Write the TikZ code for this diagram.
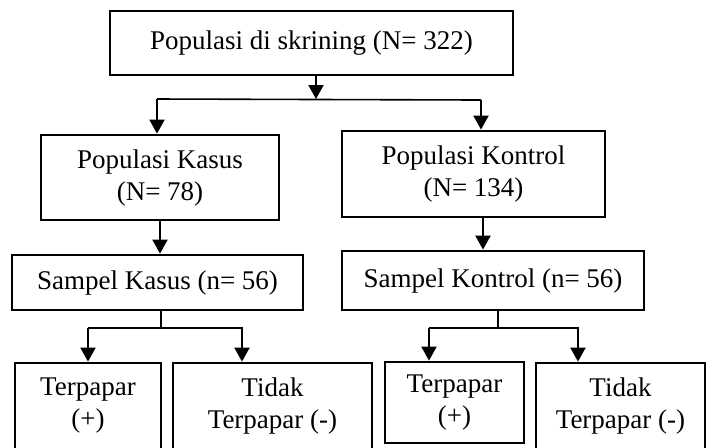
\documentclass[tikz,border=0pt]{standalone}
\usepackage{fontspec}
\setmainfont{Liberation Serif}
\usetikzlibrary{arrows.meta,positioning,calc}

\begin{document}
\begin{tikzpicture}[
  x=0.5pt, y=-0.5pt,
  box/.style={draw, line width=1.4pt, inner sep=0pt, align=center,
              font=\fontsize{13.5}{16}\selectfont},
  arr/.style={line width=1pt, -{Triangle[width=7.5pt,length=7pt]}},
  stem/.style={line width=0.6pt}
]
\useasboundingbox (0,0) rectangle (713,447);
\node[box, minimum width=201.5pt, minimum height=32pt] (scr) at (311.5,43)
  {Populasi di skrining (N= 322)};
\node[box, minimum width=119pt, minimum height=42.5pt] (kasus) at (160,177.5)
  {Populasi Kasus\\(N= 78)};
\node[box, minimum width=131.5pt, minimum height=43pt] (kontrol) at (473.5,174)
  {Populasi Kontrol\\(N= 134)};
\node[box, minimum width=145.5pt, minimum height=27.5pt] (skasus) at (157.5,282.5)
  {Sampel Kasus (n= 56)};
\node[box, minimum width=151pt, minimum height=29.5pt] (skontrol) at (493,280.5)
  {Sampel Kontrol (n= 56)};
% paparan
\node[box, minimum width=73pt, minimum height=43pt] (kpos) at (88,406)
  {Terpapar\\(+)};
\node[box, minimum width=99.5pt, minimum height=43pt] (kneg) at (272.5,406)
  {Tidak\\Terpapar (-)};
\node[box, minimum width=69.5pt, minimum height=40.5pt] (tpos) at (454.5,402.5)
  {Terpapar\\(+)};
\node[box, minimum width=84.5pt, minimum height=43pt] (tneg) at (620.5,406)
  {Tidak\\Terpapar (-)};
% cabang atas
\coordinate (jt) at (316,99);
\coordinate (jl) at (157,99);
\coordinate (jr) at (481,100);
\draw[stem, line width=0.8pt] (jl) -- (jr);
\draw[arr] (scr.south -| jt) -- (jt);
\draw[arr] (jl) -- (jl |- kasus.north);
\draw[arr] (jr) -- (jr |- kontrol.north);
\draw[arr] ([xshift=4.75pt]kontrol.south) -- ([xshift=4.75pt]kontrol.south |- skontrol.north);
\draw[arr] (kasus.south) -- (kasus.south |- skasus.north);
% cabang bawah
\coordinate (fl1) at (88,328);
\coordinate (fr1) at (242,328);
\coordinate (fl2) at (429,328);
\coordinate (fr2) at (578,328);
\draw[stem] ([xshift=1.75pt]skasus.south) -- ([xshift=1.75pt]skasus.south |- fl1);
\draw[stem] ([xshift=2.5pt]skontrol.south) -- ([xshift=2.5pt]skontrol.south |- fl2);
\draw[arr] (fl1) -- (fl1 |- kpos.north);
\draw[arr] (fl1) -- (fr1) -- (fr1 |- kneg.north);
\draw[arr] (fl2) -- (fl2 |- tpos.north);
\draw[arr] (fl2) -- (fr2) -- (fr2 |- tneg.north);
\end{tikzpicture}
\end{document}
